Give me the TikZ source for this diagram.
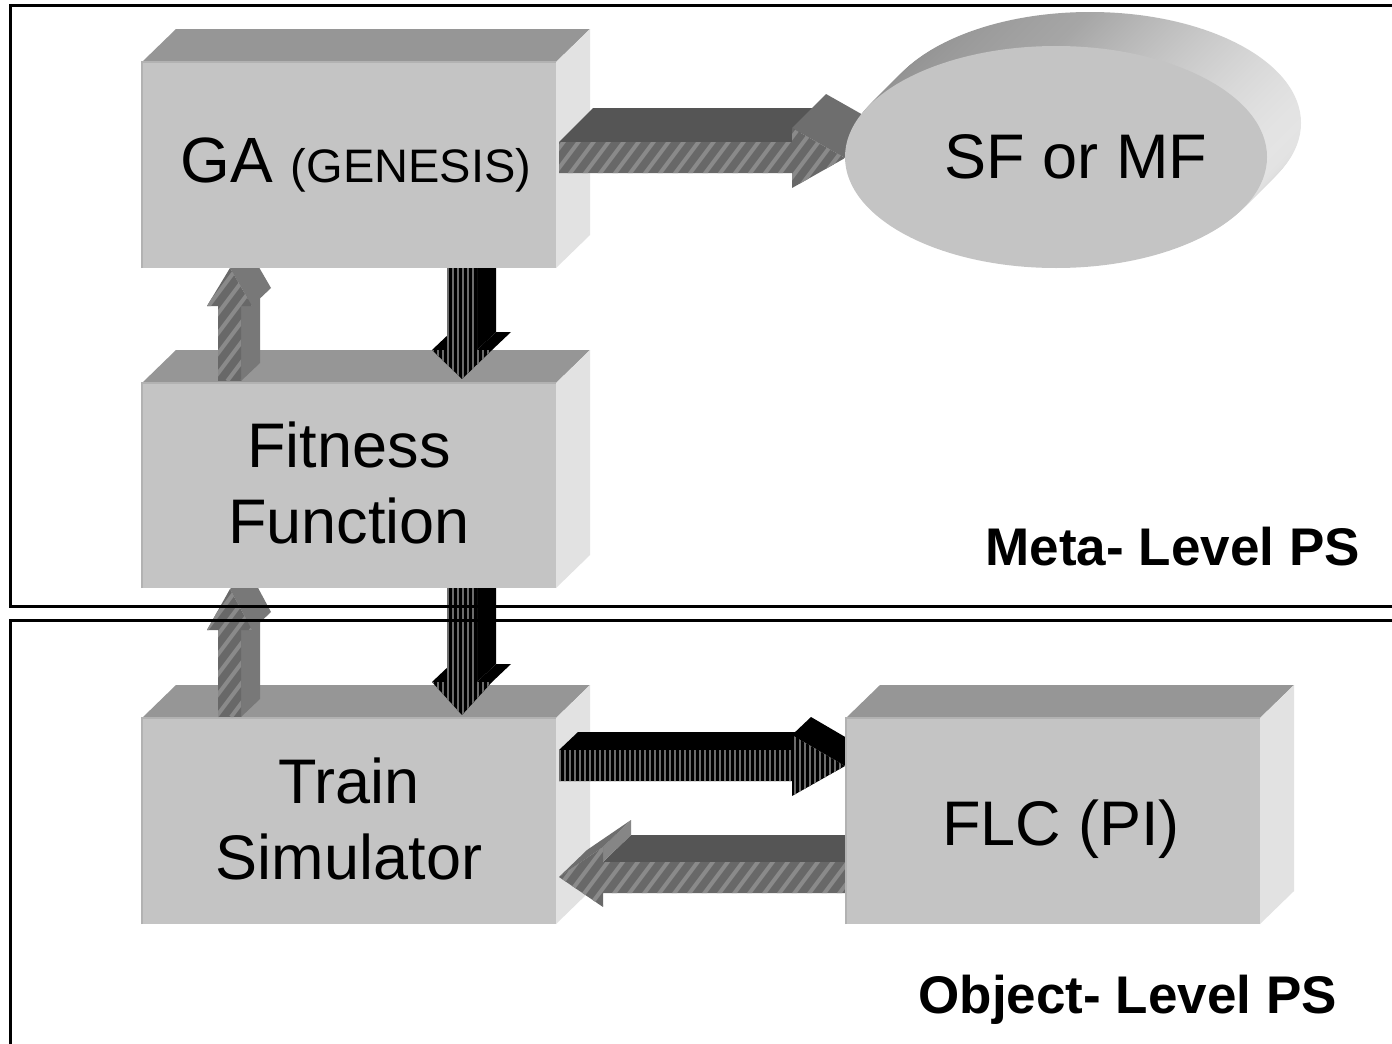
\documentclass[tikz,border=0pt]{standalone}
\usepackage{fontspec}
\setmainfont{Liberation Sans}
\definecolor{frontc}{HTML}{C4C4C4}
\definecolor{topc}{HTML}{969696}
\definecolor{sidec}{HTML}{E2E2E2}
\definecolor{edgec}{HTML}{B2B2B2}
\definecolor{arrtop}{HTML}{555555}
\definecolor{arrhead}{HTML}{6E6E6E}
\definecolor{headbase}{HTML}{868686}
\definecolor{diagbase}{HTML}{686868}
\definecolor{diagstripe}{HTML}{8A8A8A}
\definecolor{upside}{HTML}{787878}
\definecolor{vstripe}{HTML}{6C6C6C}
\definecolor{ellL}{HTML}{909090}
\definecolor{ellM}{HTML}{A6A6A6}
\definecolor{ellR}{HTML}{E4E4E4}

\newcommand\boxcube[4]{%
  \fill[topc] (#1,#2) -- (#1+34,#2-33) -- (#3+34,#2-33) -- (#3,#2) -- cycle;
  \fill[sidec] (#3,#2) -- (#3+34,#2-33) -- (#3+34,#4-33) -- (#3,#4) -- cycle;
  \fill[frontc] (#1,#2) rectangle (#3,#4);
  \draw[edgec, line width=1.2] (#1,#4) -- (#1,#2) -- (#3,#2);
}
\newcommand\diagfill[5]{%
  \begin{scope}
  \clip #1;
  \fill[diagbase] (#2,#4) rectangle (#3,#5);
  \pgfmathsetmacro\dh{#5-#4}
  \pgfmathsetmacro\sA{#2-0.75*\dh}
  \pgfmathsetmacro\sB{\sA+15}
  \foreach \s in {\sA,\sB,...,#3} {\draw[diagstripe, line width=4] (\s,#5) -- ++({0.75*\dh},{-\dh});}
  \end{scope}}
\newcommand\vstripefill[5]{%
  \begin{scope}
  \clip #1;
  \fill[black] (#2,#4) rectangle (#3,#5);
  \pgfmathsetmacro\vA{#2+1}
  \pgfmathsetmacro\vB{#2+6}
  \foreach \s in {\vA,\vB,...,#3} {\draw[vstripe, line width=1.6] (\s,#4) -- (\s,#5);}
  \end{scope}}
% up arrow: #1 bottom, #2 head base, #3 tip
\newcommand\uparr[3]{%
  \fill[upside] (241,#1) -- (260,#1-18) -- (260,#2-18) -- (241,#2) -- cycle;
  \fill[upside] (252,#2) -- (271,#2-18) -- (249,#3-18) -- (230,#3) -- cycle;
  \diagfill{(218,#1) -- (218,#2) -- (207,#2) -- (230,#3) -- (252,#2) -- (241,#2) -- (241,#1) -- cycle}{207}{252}{#3}{#1}}
% down arrow: #1 top, #2 head base, #3 tip
\newcommand\downarr[3]{%
  \fill[black] (477,#1) -- (496,#1-18) -- (496,#2-18) -- (477,#2) -- cycle;
  \fill[black] (432,#2) -- (451,#2-18) -- (466,#2-18) -- (447,#2) -- cycle;
  \fill[black] (477,#2) -- (496,#2-18) -- (511,#2-18) -- (492,#2) -- cycle;
  \vstripefill{(447,#1) -- (477,#1) -- (477,#2) -- (492,#2) -- (462,#3) -- (432,#2) -- (447,#2) -- cycle}{432}{492}{#1}{#3}}

\begin{document}
\begin{tikzpicture}[x=1pt,y=-1pt,
  big/.style={font=\fontsize{63}{76}\selectfont, inner sep=0pt, anchor=base},
  lab/.style={font=\fontsize{53}{64}\selectfont\bfseries, inner sep=0pt, anchor=base east},
  frame/.style={draw=black, line width=3}]
\useasboundingbox (0,0) rectangle (1392,1044);
\clip (0,0) rectangle (1392,1044);
\fill[white] (0,0) rectangle (1392,1044);

% ellipse extrusion
\foreach \i in {34,33,...,1} {\shade[left color=ellL, right color=ellR, middle color=ellM] ({1056+\i},{157-\i}) ellipse [x radius=211, y radius=111];}

% boxes and vertical arrows
\boxcube{142}{718}{556}{924}
\uparr{717}{630}{589}
\downarr{560}{682}{715}
\boxcube{142}{383}{556}{588}
\uparr{381}{306}{268}
\downarr{240}{350}{379}
\boxcube{142}{62}{556}{268}

% GA -> SF arrow
\fill[arrtop] (559,142) -- (593,108) -- (826,108) -- (792,142) -- cycle;
\fill[arrhead] (792,128) -- (826,94) -- (879,124) -- (845,158) -- cycle;
\diagfill{(559,142) -- (792,142) -- (792,128) -- (845,158) -- (792,188) -- (792,173) -- (559,173) -- cycle}{559}{845}{128}{188}

% front ellipse
\fill[frontc] (1056,157) ellipse [x radius=211, y radius=111];

% Train -> FLC arrow
\fill[black] (559,750) -- (578,732) -- (811,732) -- (792,750) -- cycle;
\fill[black] (792,735) -- (811,717) -- (864,748) -- (845,766) -- cycle;
\vstripefill{(559,750) -- (792,750) -- (792,735) -- (845,766) -- (792,796) -- (792,781) -- (559,781) -- cycle}{559}{845}{735}{796}

% FLC -> Train arrow
\fill[arrtop] (603,862) -- (631,835) -- (874,835) -- (846,862) -- cycle;
\fill[headbase] (603,847) -- (631,820) -- (631,835) -- (603,862) -- cycle;
\fill[arrhead] (559,877) -- (603,847) -- (631,820) -- (587,850) -- cycle;
\diagfill{(846,862) -- (603,862) -- (603,847) -- (559,877) -- (603,907) -- (603,893) -- (846,893) -- cycle}{559}{846}{847}{907}

\boxcube{846}{718}{1260}{924}

% texts
\node[big] (ga) at (356,182) {\fontsize{64}{76}\selectfont GA {\fontsize{47}{56}\selectfont (GENESIS)}};
\node[big] (sf) at (1076,178) {SF or MF};
\node[big] (fit1) at (349,467) {Fitness};
\node[big] (fit2) at (349,543) {Function};
\node[big] (tr1) at (349,803) {Train};
\node[big] (tr2) at (349,879) {Simulator};
\node[big] (flc) at (1061,845) {FLC (PI)};
\node[lab] (meta) at (1360,565) {Meta- Level PS};
\node[lab] (obj) at (1337,1013) {Object- Level PS};

% frames
\draw[frame] (1400,5) -- (10,5) -- (10,606) -- (1400,606);
\draw[frame] (1400,620) -- (10,620) -- (10,1050);
\end{tikzpicture}
\end{document}
